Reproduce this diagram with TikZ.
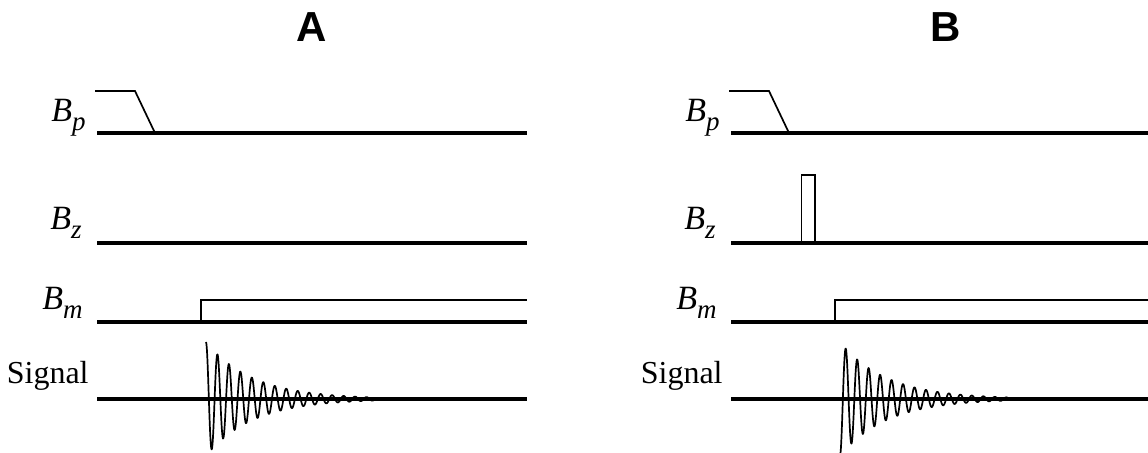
\documentclass[tikz,border=0pt]{standalone}
\usepackage{fontspec}
\setmainfont{Liberation Serif}
\newfontfamily\headfont{Liberation Sans}
\usetikzlibrary{positioning}
\newcommand\fld[1]{\textit{B}\raisebox{-4.5pt}{\fontsize{13.5}{13.5}\selectfont\textit{#1}}}

\begin{document}
\begin{tikzpicture}[x=0.5pt,y=0.5pt,
  every node/.style={inner sep=0pt},
  axis/.style={line width=2.15pt},
  pulse/.style={line width=0.85pt},
  lbl/.style={anchor=base east,font=\fontsize{17}{17}\selectfont},
  sig/.style={anchor=base east,font=\fontsize{16}{16}\selectfont},
  head/.style={font=\headfont\bfseries\fontsize{21}{21}\selectfont}]
  \useasboundingbox (0,0) rectangle (1148,453);
  \foreach \dx/\ttl/\sgn in {0/A/1,634/B/-1}{
    \pgfmathsetmacro\xend{min(\dx+527,1148)}
    \node[head] (head\ttl) at (\dx+312,426) {\ttl};
    % field labels
    \node[lbl] (bp\ttl) at (\dx+86,331) {\fld{p}};
    \node[lbl] (bz\ttl) at (\dx+82,223) {\fld{z}};
    \node[lbl] (bm\ttl) at (\dx+83,143) {\fld{m}};
    \node[sig] (sg\ttl) at (\dx+89,69.5) {Signal};
    % base lines
    \draw[axis] (\dx+97,320) -- (\xend,320);
    \draw[axis] (\dx+97,210) -- (\xend,210);
    \draw[axis] (\dx+97,131) -- (\xend,131);
    \draw[axis] (\dx+97,54) -- (\xend,54);
    % polarizing ramp and measuring field
    \draw[pulse] (\dx+95,362) -- (\dx+135,362) -- (\dx+155,320);
    \draw[pulse] (\dx+201,131) -- (\dx+201,153) -- (\xend,153);
    % free induction decay
    \draw[pulse,line join=round] plot[domain=0:170,samples=500,smooth]
      ({\dx+206+\x},{54+\sgn*57*exp(-\x/47)*cos(\x*31.386)});
  }
  % short z pulse, panel B only
  \draw[pulse] (801.5,210) -- (801.5,278) -- (815,278) -- (815,210);
\end{tikzpicture}
\end{document}
